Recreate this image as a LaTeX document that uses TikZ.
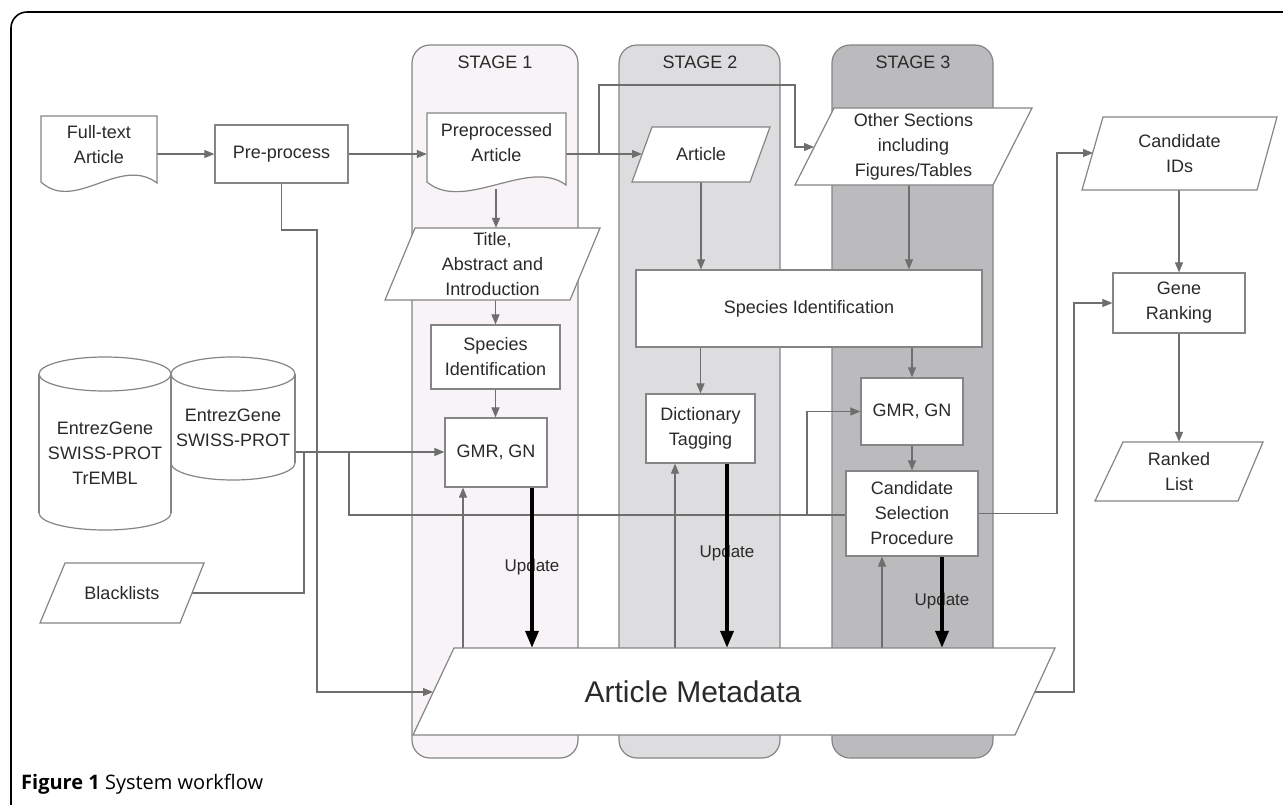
\documentclass[tikz,border=0pt]{standalone}
\usepackage{fontspec}
\setmainfont{Liberation Sans}
\newfontfamily\capfont{Open Sans}
\usetikzlibrary{arrows.meta,calc}
\pgfdeclarelayer{lanes}
\pgfdeclarelayer{bg}
\pgfsetlayers{lanes,bg,main}
\definecolor{txt}{HTML}{2A2A2A}
\definecolor{ln}{HTML}{6E6E6E}
\definecolor{bd}{HTML}{858585}
\definecolor{laneA}{HTML}{F7F3F6}
\definecolor{laneB}{HTML}{DDDCDE}
\definecolor{laneC}{HTML}{BBBABD}
\begin{document}
\begin{tikzpicture}[x=1pt,y=-1pt,
  every node/.style={font=\fontsize{18}{25}\selectfont, text=txt, align=center, inner sep=0pt},
  box/.style={draw=bd, fill=white, line width=1.2pt},
  shp/.style={draw=bd, fill=white, line width=1.2pt},
  lane/.style={draw=bd, line width=1.2pt, rounded corners=18pt},
  conn/.style={draw=ln, line width=1.1pt},
  arr/.style={conn, -{Triangle[length=10pt,width=8pt]}},
  upd/.style={draw=black, line width=3.6pt, -{Triangle[length=17pt,width=13pt]}},
  lbl/.style={font=\fontsize{17}{20}\selectfont},
]
\useasboundingbox (0,0) rectangle (1283,804);
\begin{pgfonlayer}{lanes}
\fill[white] (0,0) rectangle (1283,804);
\draw[line width=1.6pt, black, rounded corners=16pt] (11,830) -- (11,12) -- (1310,12);
\draw[lane, fill=laneA] (412,45) rectangle (578,758);
\draw[lane, fill=laneB] (619,45) rectangle (780,758);
\draw[lane, fill=laneC] (832,45) rectangle (993,758);
\node (st1) at (495,62) {STAGE 1};
\node (st2) at (700,62) {STAGE 2};
\node (st3) at (913,62) {STAGE 3};
\end{pgfonlayer}

% documents
\path[shp] (41,116) -- (157,116) -- (157,183) .. controls (120,155) and (75,213) .. (41,182) -- cycle;
\node[minimum width=116pt] (full) at (99,144.5) {Full-text\\Article};
\path[shp] (427,113) -- (566,113) -- (566,185) .. controls (529,157) and (464,213) .. (427,182) -- cycle;
\node[minimum width=139pt] (preart) at (496.5,143) {Preprocessed\\Article};

% cylinders
\fill[white, draw=bd, line width=1.2pt] (105,513) ellipse [x radius=66, y radius=17];
\fill[white] (39,374) rectangle (171,513);
\draw[bd, line width=1.2pt] (39,374) -- (39,513) (171,374) -- (171,513);
\fill[white, draw=bd, line width=1.2pt] (105,374) ellipse [x radius=66, y radius=17];
\node (db1) at (105,453) {EntrezGene\\SWISS-PROT\\TrEMBL};
\fill[white, draw=bd, line width=1.2pt] (233,463) ellipse [x radius=62, y radius=17];
\fill[white] (171,374) rectangle (295,463);
\draw[bd, line width=1.2pt] (171,374) -- (171,463) (295,374) -- (295,463);
\fill[white, draw=bd, line width=1.2pt] (233,374) ellipse [x radius=62, y radius=17];
\node (db2) at (233,428) {EntrezGene\\SWISS-PROT};

% parallelograms
\path[shp] (65,563) -- (204,563) -- (180,623) -- (40,623) -- cycle;
\node[minimum height=60pt] (black) at (122,593) {Blacklists};
\path[shp] (415,228) -- (600,228) -- (570,300) -- (385,300) -- cycle;
\node[minimum height=72pt] (title) at (492.5,264) {Title,\\Abstract and\\Introduction};
\path[shp] (652,127) -- (770,127) -- (750,182) -- (632,182) -- cycle;
\node[minimum height=55pt] (art2) at (701,154.5) {Article};
\path[shp] (834,108) -- (1032,108) -- (993,185) -- (795,185) -- cycle;
\node[minimum height=77pt] (other) at (913.5,146.5) {Other Sections\\including\\Figures/Tables};
\path[shp] (1103,117) -- (1277,117) -- (1257,190) -- (1082,190) -- cycle;
\node[minimum height=73pt] (cids) at (1179.5,153.5) {Candidate\\IDs};
\path[shp] (1123,442) -- (1263,442) -- (1238,501) -- (1095,501) -- cycle;
\node[minimum height=59pt] (ranked) at (1179,471.5) {Ranked\\List};
\path[shp] (454,648) -- (1055,648) -- (1015,735) -- (413,735) -- cycle;
\node[minimum width=560pt, minimum height=87pt] (meta) at (734,691.5) {};
\node[font=\fontsize{30}{32}\selectfont] (metatxt) at (693,692) {Article Metadata};

% boxes
\node[box, minimum width=133pt, minimum height=58pt] (pre) at (281.5,154) {Pre-process};
\node[box, minimum width=129pt, minimum height=64pt] (sp1) at (495.5,357) {Species\\Identification};
\node[box, minimum width=102pt, minimum height=69pt] (gmr1) at (496,452.5) {GMR, GN};
\node[box, minimum width=346pt, minimum height=77pt] (spb) at (809,308.5) {Species Identification};
\node[box, minimum width=109pt, minimum height=69pt] (dict) at (700.5,428.5) {Dictionary\\Tagging};
\node[box, minimum width=102pt, minimum height=67pt] (gmr3) at (912,411.5) {GMR, GN};
\node[box, minimum width=132pt, minimum height=85pt] (cand) at (912,513.5) {Candidate\\Selection\\Procedure};
\node[box, minimum width=132pt, minimum height=60pt] (gene) at (1179,303) {Gene\\Ranking};

% helper coordinates
\coordinate (j1) at (599,154);
\coordinate (art2w) at (642,154);
\coordinate (otherw) at (814,147);
\coordinate (pas) at (496,189);
\coordinate (cyl2e) at (295,452);
\coordinate (blke) at (192,593);
\coordinate (cidsw) at (1093,153);
\coordinate (metae) at (1035,692);
\coordinate (metaw) at (433,692);
\coordinate (os) at (909,185);
\coordinate (u1) at (463,0);
\coordinate (u2) at (675,0);
\coordinate (u3) at (882,0);
\coordinate (d1) at (532,0);
\coordinate (d2) at (727,0);
\coordinate (d3) at (942,0);

\begin{pgfonlayer}{bg}
\draw[arr] (full.east |- pre.west) -- (pre.west);
\draw[arr] (pre.east) -- (preart.west |- pre.east);
\draw[arr] (preart.east |- pre.east) -- (art2w);
\draw[arr] (j1) -- (599,85) -- (795,85) -- (795,147) -- (otherw);
\draw[arr] (pas) -- (pas |- title.north);
\draw[arr] (title.south -| sp1.north) -- (sp1.north);
\draw[arr] (sp1.south) -- (sp1.south |- gmr1.north);
\draw[arr] (cyl2e) -- (cyl2e -| gmr1.west);
\draw[conn] (blke) -- (304,593) -- (304,452);
\draw[arr] (349,452) -- (349,515) -- (807,515) -- (807,411.5) -- (gmr3.west);
\draw[conn] (807,515) -- (cand.west |- 0,515);
\draw[arr] (cand.east) -- (1057,513.5) -- (1057,153) -- (cidsw);
\draw[arr] (gene.north |- cids.south) -- (gene.north);
\draw[arr] (gene.south) -- (gene.south |- ranked.north);
\draw[arr] (metae) -- (1074,692) -- (1074,303) -- (gene.west);
\draw[arr] (pre.south) -- (281.5,230) -- (317,230) -- (317,692) -- (metaw);
\draw[arr] (art2.south) -- (art2.south |- spb.north);
\draw[arr] (os) -- (os |- spb.north);
\draw[arr] (spb.south -| dict.north) -- (dict.north);
\draw[arr] (spb.south -| gmr3.north) -- (gmr3.north);
\draw[arr] (gmr3.south) -- (cand.north);
\draw[arr] (meta.north -| u1) -- (gmr1.south -| u1);
\draw[arr] (meta.north -| u2) -- (dict.south -| u2);
\draw[arr] (meta.north -| u3) -- (cand.south -| u3);
\node[lbl] (up1) at (532,567) {Update};
\node[lbl] (up2) at (727,553) {Update};
\node[lbl] (up3) at (942,601) {Update};
\draw[upd] (gmr1.south -| d1) -- (meta.north -| d1);
\draw[upd] (dict.south -| d2) -- (meta.north -| d2);
\draw[upd] (cand.south -| d3) -- (meta.north -| d3);
\end{pgfonlayer}

\node[anchor=west, font=\capfont\fontsize{20}{22}\selectfont, text=black] (cap) at (21,784) {\textbf{Figure 1} System workflow};
\end{tikzpicture}
\end{document}
